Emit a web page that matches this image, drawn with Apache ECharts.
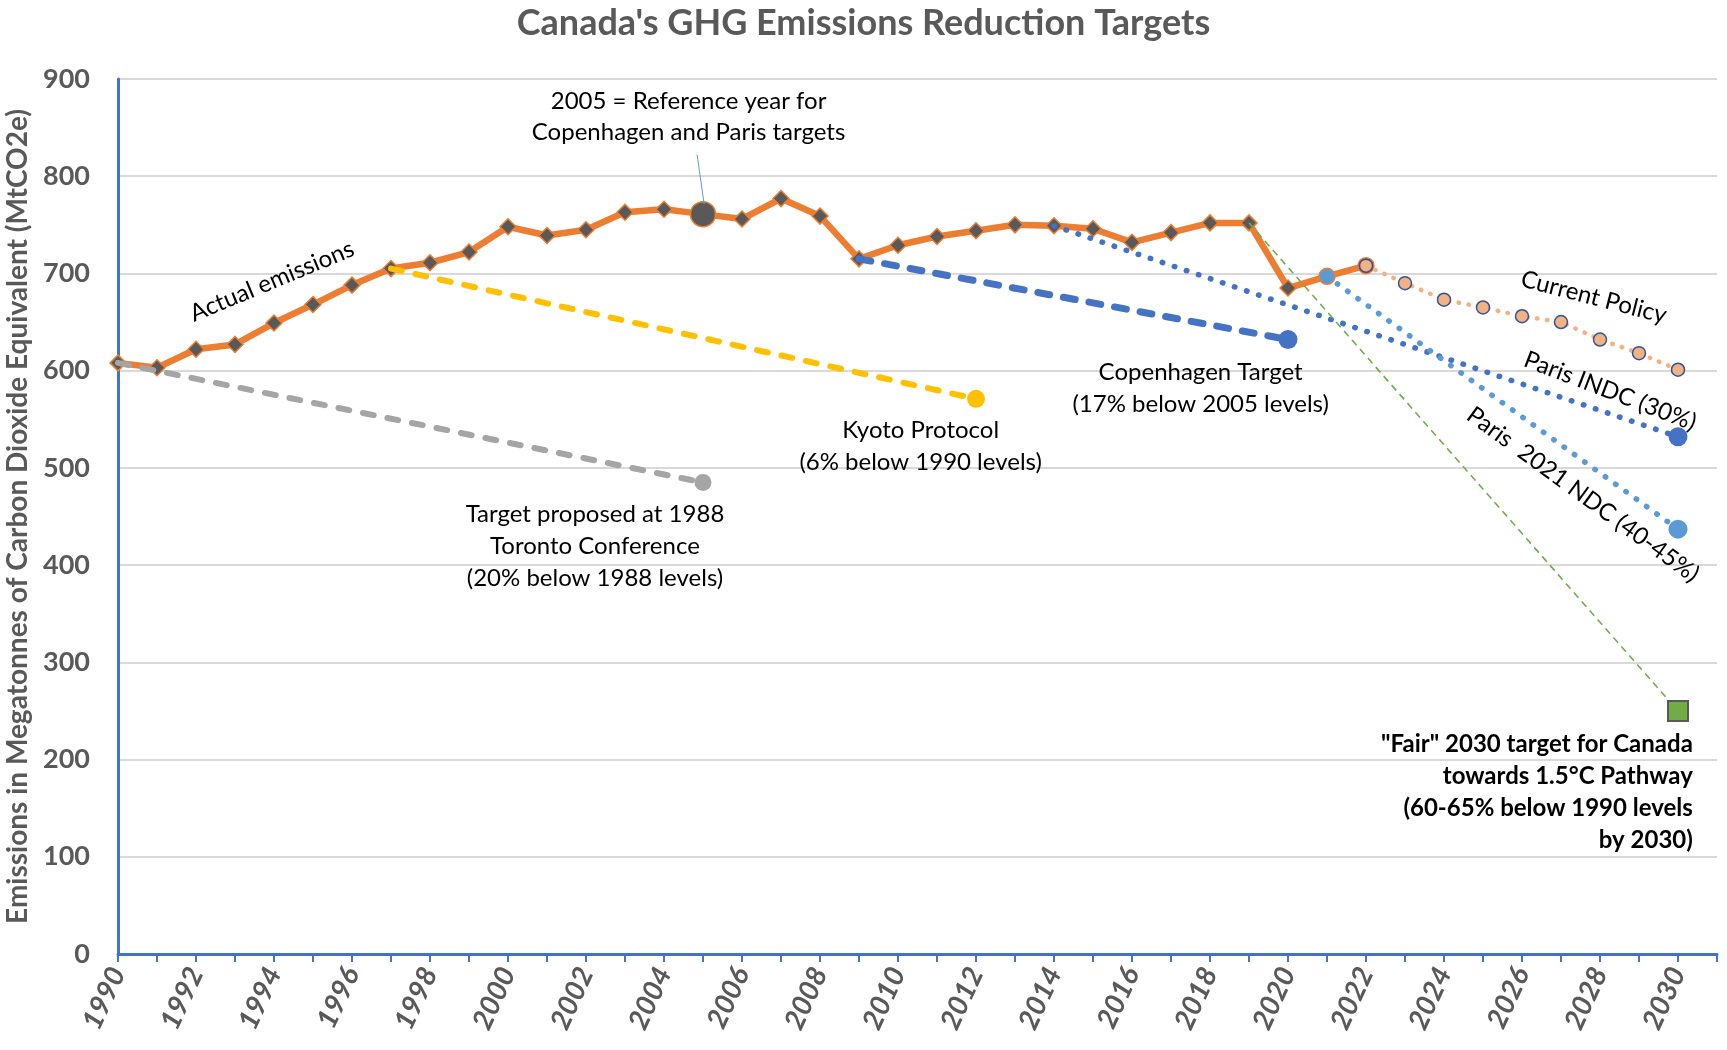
<!DOCTYPE html>
<html><head><meta charset="utf-8">
<script src="https://cdn.jsdelivr.net/npm/echarts@6/dist/echarts.min.js"></script>
<style>html,body{margin:0;padding:0;background:#fff}#c{width:1727px;height:1050px}</style>
</head><body><div id="c"></div>
<script>
// ---- data ----
const actualYears = [1990,1991,1992,1993,1994,1995,1996,1997,1998,1999,2000,2001,2002,2003,2004,2005,2006,2007,2008,2009,2010,2011,2012,2013,2014,2015,2016,2017,2018,2019,2020,2021,2022];
const actualValues = [608,603,622,627,649,668,688,705,711,722,748,739,745,763,766,761,756,777,759,715,729,738,744,750,749,746,732,742,752,752,685,697,708];
const policyYears = [2022,2023,2024,2025,2026,2027,2028,2029,2030];
const policyValues = [708,690,673,665,656,650,632,618,601];
const torontoYears = [1990,2005];   const torontoValues = [608,485];
const kyotoYears = [1997,2012];     const kyotoValues = [705,571];
const copenYears = [2009,2020];     const copenValues = [715,632];
const parisIndcYears = [2014,2030]; const parisIndcValues = [749,532];
const paris2021Years = [2021,2030]; const paris2021Values = [697,437];
const fairYears = [2019,2030];      const fairValues = [752,250];
const yTicks = [0,100,200,300,400,500,600,700,800,900];

const pairs = (xs, ys) => xs.map((x,i)=>[x, ys[i]]);

const FONT = 'Lato, "Open Sans", sans-serif';
const GRAY = '#595959';

const chart = echarts.init(document.getElementById('c'), null, {renderer:'canvas'});

function targetSeries(name, xs, ys, color, width, dash, endSize) {
  return {
    name, type:'line', data: pairs(xs, ys), z: 3,
    symbol:'circle',
    symbolSize: (v, p) => p.dataIndex === xs.length-1 ? endSize : 0,
    itemStyle:{color},
    lineStyle:{color, width, type: dash, cap:'round'},
    animation:false, silent:true
  };
}

const option = {
  animation:false,
  backgroundColor:'#fff',
  title:{text:"Canada's GHG Emissions Reduction Targets", left:'center', top:5, padding:0,
    textStyle:{fontFamily:FONT, fontSize:36, fontWeight:'bold', color:GRAY}},
  grid:{left:118, right:10, top:79, bottom:96, containLabel:false, outerBoundsMode:'none'},
  xAxis:{type:'value', min:1990, max:2031, interval:1,
    axisLine:{show:true, lineStyle:{color:'#4472C4', width:3}},
    axisTick:{show:true, length:8, lineStyle:{color:'#4472C4', width:2}},
    splitLine:{show:false},
    axisLabel:{formatter: v => (v%2===0 && v<=2030) ? String(v) : '', rotate:65, margin:15,
      fontFamily:FONT, fontSize:28, fontWeight:'bold', fontStyle:'italic', color:GRAY, showMaxLabel:true}
  },
  yAxis:{type:'value', min:yTicks[0], max:yTicks[yTicks.length-1], interval:100,
    name:'Emissions in Megatonnes of Carbon Dioxide Equivalent (MtCO2e)',
    nameLocation:'middle', nameGap:81, nameRotate:90,
    nameTextStyle:{fontFamily:FONT, fontSize:28, fontWeight:'bold', color:GRAY},
    axisLine:{show:true, lineStyle:{color:'#4472C4', width:3}},
    axisTick:{show:false},
    splitLine:{show:true, lineStyle:{color:'#D9D9D9', width:2}},
    axisLabel:{fontFamily:FONT, fontSize:27, fontWeight:'bold', color:GRAY, margin:28}
  },
  series:[
    {
      name:'Actual emissions', type:'line', data: pairs(actualYears, actualValues), z:2,
      symbol:(v,p)=> (p.dataIndex===15 || p.dataIndex===31 || p.dataIndex===32) ? 'circle' : 'diamond',
      symbolSize:(v,p)=> p.dataIndex===15 ? 25 : 16,
      lineStyle:{color:'#ED7D31', width:6.5},
      itemStyle:{color:(p)=> p.dataIndex===31 ? '#5B9BD5' : GRAY, borderColor:'#ED7D31', borderWidth:1.5},
      silent:true
    },
    targetSeries('Toronto', torontoYears, torontoValues, '#A5A5A5', 6, [11,14], 17),
    targetSeries('Kyoto', kyotoYears, kyotoValues, '#FFC000', 6, [11,14], 18),
    targetSeries('Copenhagen', copenYears, copenValues, '#4472C4', 7, [12,14], 19),
    targetSeries('Paris INDC', parisIndcYears, parisIndcValues, '#4472C4', 5.5, [0.5,12.2], 19),
    targetSeries('Paris 2021 NDC', paris2021Years, paris2021Values, '#5B9BD5', 5.5, [0.5,12.2], 19),
    {
      name:'Fair', type:'line', data: pairs(fairYears, fairValues), z:3,
      symbol:'rect', symbolSize:(v,p)=> p.dataIndex===1 ? 20 : 0,
      itemStyle:{color:'#70AD47', borderColor:GRAY, borderWidth:2},
      lineStyle:{color:'#70AD47', width:1.6, type:[7,5]}, silent:true
    },
    {
      name:'Current Policy', type:'line', data: pairs(policyYears, policyValues), z:4,
      symbol:'circle', symbolSize:13,
      itemStyle:{color:'#F4B183', borderColor:'#2F5597', borderWidth:1.5},
      lineStyle:{color:'#F4B183', width:4.5, type:[0.5,9.5], cap:'round'}, silent:true
    }
  ]
};
chart.setOption(option);

// ---- annotations (anchored in data coordinates) ----
const notes = [
  {text:'2005 = Reference year for\nCopenhagen and Paris targets', at:[2004.63, 861], align:'center', lh:31},
  {text:'Actual emissions', at:[1993.95, 692], align:'center', rot:22.5, lh:28},
  {text:'Target proposed at 1988\nToronto Conference\n(20% below 1988 levels)', at:[2002.23, 419.5], align:'center', lh:32},
  {text:'Kyoto Protocol\n(6% below 1990 levels)', at:[2010.58, 522], align:'center', lh:32},
  {text:'Copenhagen Target\n(17% below 2005 levels)', at:[2017.76, 582], align:'center', lh:32},
  {text:'Current Policy', at:[2027.84, 675.5], align:'center', rot:-14.5, lh:28},
  {text:'Paris INDC (30%)', at:[2028.26, 579], align:'center', rot:-21, lh:28},
  {text:'Paris  2021 NDC (40-45%)', at:[2027.56, 472.5], align:'center', rot:-36, lh:28},
  {text:'"Fair" 2030 target for Canada\ntowards 1.5°C Pathway\n(60-65% below 1990 levels\nby 2030)', at:[2030.38, 166], align:'right', bold:true, lh:32}
];
const leader = [[2004.85, 822], [2005.03, 771]];

const px = p => chart.convertToPixel({gridIndex:0}, p);
const graphics = notes.map(n => {
  const p = px(n.at);
  return {
    type:'text', x:p[0], y:p[1], rotation:(n.rot||0)*Math.PI/180, z:10, silent:true,
    style:{text:n.text, x:0, y:0, textAlign:n.align, textVerticalAlign:'middle',
      font:(n.bold?'bold ':'')+'24px '+FONT, fill:'#000', lineHeight:n.lh}
  };
});
const a = px(leader[0]), b = px(leader[1]);
graphics.push({type:'line', z:9, silent:true, shape:{x1:a[0], y1:a[1], x2:b[0], y2:b[1]},
  style:{stroke:'#5B9BD5', lineWidth:1}});
chart.setOption({graphic:graphics});
</script>
</body></html>
